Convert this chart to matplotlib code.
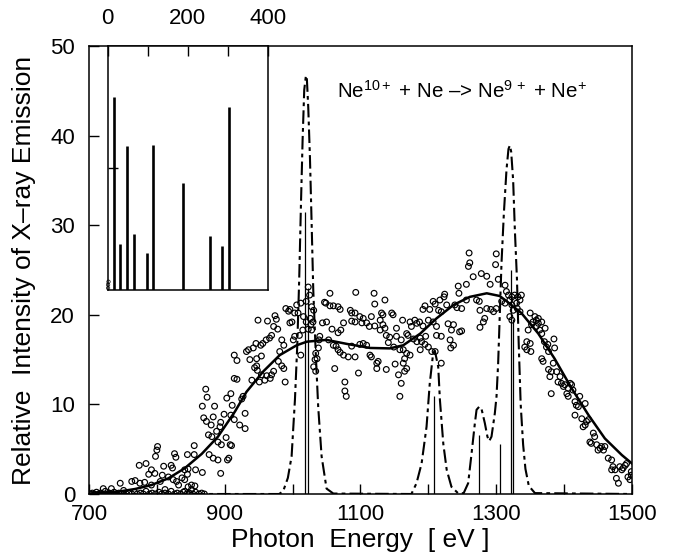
import numpy as np
import matplotlib
matplotlib.use("Agg")
import matplotlib.pyplot as plt

plt.rcParams['font.family'] = ['Liberation Sans', 'DejaVu Sans']
plt.rcParams['mathtext.fontset'] = 'custom'
plt.rcParams['mathtext.rm'] = 'Liberation Sans'
plt.rcParams['mathtext.it'] = 'Liberation Sans:italic'
plt.rcParams['mathtext.bf'] = 'Liberation Sans:bold'

# measured spectrum (open circles), eV / intensity
exp_energy = [
    702, 705, 708, 711, 714, 717, 720, 724, 727, 730, 733, 737, 740, 744, 748, 751, 755, 759,
    763, 767, 771, 776, 780, 784, 789, 793, 798, 803, 807, 812, 817, 821, 826, 830, 835, 839,
    844, 848, 853, 857, 862, 866, 870,
    721, 733, 746, 763, 768, 775, 782, 792, 805, 812, 817, 824, 829, 832, 837, 841, 841, 846,
    851, 851, 856, 774, 784, 788, 792, 797, 798, 800, 801, 808, 810, 821, 823, 826, 828, 841,
    845, 845, 846, 855, 855, 857, 867, 867, 869, 872, 873, 874, 876, 877, 880, 881, 883, 883,
    885, 888, 890, 890, 893, 894, 894, 895, 899, 902, 903, 904, 906, 908, 909, 909, 910, 911,
    914, 914, 914, 918, 918, 922, 925, 927, 930, 930, 932, 935, 937, 940, 942, 944, 946, 947,
    947, 948, 949, 951, 953, 954, 954, 956, 959, 961, 962, 963, 966, 967, 969, 969, 972, 972,
    974, 976, 978, 979, 981, 984, 984, 987, 987, 989, 990, 994, 996, 996, 999, 1001, 1003, 1003,
    1006, 1008, 1010, 1012, 1012, 1015, 1016, 1020, 1020, 1023, 1023, 1025, 1026, 1027, 1028, 1028,
    1030, 1031, 1031, 1033, 1034, 1034, 1036, 1038, 1039, 1040, 1044, 1047, 1049, 1050, 1053, 1055,
    1055, 1058, 1060, 1060, 1062, 1064, 1067, 1067, 1067, 1070, 1070, 1071, 1075, 1075, 1077, 1077,
    1079, 1082, 1085, 1087, 1087, 1087, 1092, 1092, 1092, 1093, 1097, 1099, 1099, 1102, 1104, 1104,
    1109, 1109, 1113, 1114, 1116, 1116, 1120, 1121, 1121, 1124, 1124, 1126, 1129, 1129, 1131, 1133,
    1133, 1136, 1136, 1138, 1138, 1141, 1143, 1146, 1148, 1149, 1151, 1153, 1153, 1156, 1158, 1158,
    1160, 1160, 1162, 1163, 1163, 1165, 1165, 1168, 1168, 1168, 1170, 1173, 1173, 1175, 1178, 1180,
    1183, 1183, 1187, 1188, 1188, 1190, 1192, 1192, 1195, 1195, 1196, 1200, 1200, 1202, 1205, 1207,
    1207, 1210, 1210, 1212, 1212, 1215, 1217, 1219, 1219, 1219, 1223, 1224, 1227, 1229, 1232, 1233,
    1234, 1237, 1237, 1239, 1242, 1244, 1245, 1246, 1249, 1249, 1256, 1256, 1259, 1260, 1261, 1266,
    1271, 1275, 1276, 1276, 1278, 1281, 1283, 1286, 1286, 1291, 1292, 1296, 1299, 1300, 1300, 1303,
    1308, 1313, 1313, 1315, 1318, 1320, 1320, 1323, 1323, 1323, 1325, 1327, 1330, 1331, 1332, 1335,
    1335, 1337, 1342, 1345, 1345, 1347, 1350, 1350, 1351, 1352, 1354, 1357, 1359, 1359, 1362, 1362,
    1364, 1367, 1367, 1367, 1369, 1371, 1372, 1374, 1376, 1377, 1377, 1379, 1381, 1381, 1384, 1385,
    1386, 1389, 1391, 1394, 1396, 1399, 1401, 1404, 1406, 1406, 1409, 1411, 1413, 1416, 1416, 1418,
    1421, 1423, 1426, 1428, 1431, 1431, 1433, 1436, 1438, 1440, 1443, 1445, 1448, 1450, 1453, 1455,
    1458, 1460, 1465, 1470, 1470, 1472, 1475, 1477, 1480, 1482, 1485, 1487, 1490, 1492, 1494, 1497,
    1499, 1499,
]
exp_intensity = [
    0.0, 0.1, 0.0, 0.2, 0.0, 0.1, 0.0, 0.3, 0.0, 0.1, 0.0, 0.2, 0.0, 0.1, 0.0, 0.4, 0.0, 0.1,
    0.0, 0.2, 0.0, 0.1, 0.0, 0.3, 0.0, 0.1, 0.0, 0.2, 0.0, 0.1, 0.0, 0.3, 0.0, 0.1, 0.0, 0.2,
    0.0, 0.1, 0.0, 0.2, 0.0, 0.1, 0.0,
    0.6, 0.6, 1.2, 1.4, 1.5, 1.2, 1.3, 1.0, 1.4, 0.5, 1.9, 1.6, 1.4, 1.0, 1.8, 1.6, 0.3, 0.8,
    1.0, 0.5, 0.9, 3.2, 3.4, 2.2, 2.7, 2.3, 4.2, 4.9, 5.3, 2.1, 3.1, 3.2, 2.9, 4.5, 4.1, 2.7,
    2.2, 4.4, 2.8, 5.4, 4.4, 2.7, 2.4, 9.8, 8.5, 11.7, 8.1, 10.8, 6.6, 4.4, 7.7, 6.4, 8.6, 4.0,
    9.8, 7.0, 5.8, 3.8, 7.5, 8.0, 2.3, 5.5, 8.9, 6.3, 10.7, 3.8, 4.0, 5.5, 11.2, 8.8, 5.4, 9.9,
    15.5, 12.9, 8.3, 14.9, 12.8, 7.7, 10.6, 10.9, 9.0, 7.3, 15.9, 16.1, 15.0, 12.7, 16.3, 14.1,
    16.8, 15.1, 14.3, 13.8, 19.4, 12.5, 16.6, 15.4, 13.3, 16.8, 12.7, 17.2, 13.2, 19.3, 17.4,
    12.9, 17.7, 13.3, 18.7, 13.7, 19.9, 19.5, 18.4, 14.8, 15.9, 17.2, 14.3, 16.6, 14.0, 12.5,
    20.7, 20.4, 20.6, 19.1, 19.2, 17.2, 20.2, 17.6, 21.1, 20.2, 17.7, 21.3, 15.5, 18.3, 19.8,
    21.5, 19.2, 18.4, 23.1, 22.2, 19.6, 18.9, 18.3, 20.9, 19.2, 20.5, 14.2, 15.0, 15.7, 13.7,
    15.1, 16.3, 17.2, 17.6, 19.1, 21.4, 21.3, 19.2, 17.2, 22.4, 21.0, 18.4, 16.6, 21.0, 14.0,
    16.5, 20.9, 18.0, 16.1, 20.6, 15.8, 18.3, 19.1, 15.5, 12.5, 11.5, 10.9, 15.3, 20.5, 20.2,
    19.3, 16.5, 20.2, 19.2, 15.3, 22.5, 13.5, 19.8, 16.7, 19.1, 19.6, 16.8, 19.1, 16.6, 18.7,
    15.5, 19.8, 15.3, 22.4, 21.2, 18.75, 14.6, 14.0, 14.8, 19.4, 18.3, 20.2, 18.9, 20.0, 21.65,
    18.5, 17.7, 13.9, 16.9, 17.5, 20.2, 20.0, 16.4, 14.5, 18.5, 17.6, 13.3, 16.1, 10.9, 17.2,
    12.35, 19.4, 16.1, 14.6, 15.1, 13.7, 17.9, 15.7, 14.0, 17.7, 15.5, 19.2, 18.7, 17.3, 19.4,
    19.05, 17.0, 19.2, 17.4, 16.1, 17.0, 20.6, 18.75, 21.0, 16.7, 17.6, 19.4, 16.4, 20.6, 15.9,
    21.5, 19.2, 21.2, 15.9, 18.7, 17.7, 20.5, 21.65, 20.35, 14.6, 17.6, 22.0, 22.3, 21.1, 19.0,
    17.2, 16.3, 18.3, 18.9, 16.6, 21.1, 20.8, 23.2, 22.4, 18.1, 20.7, 18.2, 23.4, 21.65, 25.4,
    26.9, 25.8, 24.25, 21.65, 21.5, 20.5, 18.6, 24.6, 19.2, 19.6, 24.3, 20.7, 23.4, 20.6, 20.35,
    25.6, 26.8, 20.7, 23.96, 21.5, 23.3, 21.3, 22.6, 22.2, 21.65, 19.8, 22.0, 21.1, 19.4, 20.5,
    22.2, 21.3, 20.7, 22.0, 21.65, 20.35, 22.2, 16.4, 17.0, 16.1, 18.3, 20.2, 16.8, 15.9, 18.9,
    19.2, 19.8, 19.4, 18.7, 19.6, 19.05, 18.3, 17.9, 19.2, 15.1, 14.8, 17.0, 18.5, 16.4, 16.7,
    15.9, 13.9, 13.1, 13.65, 11.2, 14.6, 17.3, 16.3, 13.65, 12.5, 13.1, 12.35, 12.0, 12.2,
    11.2, 11.8, 10.9, 12.35, 12.2, 11.6, 8.8, 10.3, 9.9, 9.75, 10.9, 8.4, 7.5, 7.7, 10.1, 8.1,
    8.3, 5.8, 5.65, 6.8, 6.4, 5.5, 4.9, 5.1, 5.3, 4.9, 5.3, 4.0, 3.8, 2.7, 3.05, 2.7, 1.75, 1.2,
    3.05, 2.7, 2.9, 3.2, 3.4, 1.9, 1.6, 2.1, 2.5,
]

# smooth fit (solid line)
fit_energy = [700, 720, 743, 768, 792, 817, 841, 866, 890, 915, 932, 957, 981, 1006, 1021,
              1050, 1080, 1114, 1143, 1163, 1188, 1212, 1237, 1261, 1286, 1305, 1313, 1337,
              1362, 1386, 1411, 1436, 1460, 1485, 1500]
fit_intensity = [0.05, 0.12, 0.26, 0.56, 1.0, 1.75, 2.87, 4.47, 6.4, 9.2, 11.4, 13.7, 15.5,
                 16.6, 17.0, 17.2, 16.75, 16.3, 16.25, 16.6, 17.9, 19.6, 21.1, 22.0, 22.4,
                 22.1, 21.65, 20.2, 17.9, 15.1, 11.8, 8.8, 6.2, 4.35, 3.4]

# convolved line spectrum (dash-dot line)
conv_energy = [700, 980, 986, 993, 998.5, 1003.4, 1006.8, 1009.7, 1012.2, 1014.7, 1017.1,
               1019.6, 1021, 1023, 1025.5, 1028, 1030.4, 1034.3, 1037.7, 1042.7, 1050, 1060,
               1175, 1182.5, 1190, 1197.3, 1202, 1207, 1209.5, 1214.5, 1217, 1222, 1227, 1234,
               1244, 1252, 1258.6, 1263.6, 1268.5, 1271, 1275, 1278.3, 1283.2, 1287, 1289.6,
               1293, 1297.9, 1300.4, 1302.8, 1305.3, 1307.7, 1311.2, 1315.1, 1318, 1320, 1322,
               1324.9, 1327.4, 1330.5, 1333, 1336, 1339.6, 1343, 1348, 1357, 1500]
conv_intensity = [0, 0, 0.3, 1.8, 4.2, 10.5, 16.5, 24.0, 32.1, 39.5, 45.1, 46.7, 46.3, 43.2,
                  37.6, 30.2, 22.8, 15.3, 9.7, 4.2, 0.6, 0.05, 0, 1.2, 3.4, 7.5, 12.3, 15.7,
                  16.0, 14.2, 10.5, 5.6, 2.7, 0.8, 0.07, 0.1, 1.2, 4.5, 7.9, 9.4, 9.75, 9.5,
                  7.9, 6.4, 5.9, 6.4, 9.0, 10.9, 14.6, 20.2, 25.7, 31.3, 36.2, 38.5, 38.9, 38.2,
                  35.0, 29.5, 24.0, 17.0, 10.0, 5.5, 2.8, 0.9, 0.1, 0]

# line positions (thin vertical sticks)
stick_energy = [1017.5, 1022.5, 1208.6, 1275, 1305, 1321.5, 1325]
stick_height = [31.5, 23.0, 10.9, 6.6, 5.6, 25.0, 19.5]

# inset lines
inset_pos = [16.6, 31.6, 47.4, 66.6, 97.4, 114, 189, 256, 286, 302]
inset_height = [79, 19, 59, 23, 15, 59.4, 44, 22, 18, 75]

fs = 16
fig = plt.figure(figsize=(6.73, 5.57), dpi=100)
ax = fig.add_axes([0.13224, 0.11311, 0.80684, 0.80431])

ax.scatter(exp_energy, exp_intensity, s=17, facecolors='none', edgecolors='black',
           linewidths=0.85, zorder=2)
ax.plot(fit_energy, fit_intensity, color='black', lw=1.8, zorder=3)
ax.plot(conv_energy, conv_intensity, color='black', lw=1.5,
        linestyle=(0, (6.5, 2.0, 1.8, 2.0)), zorder=3)
ax.vlines(stick_energy, 0, stick_height, color='black', lw=0.9, zorder=3)

ax.set_xlim(700, 1500)
ax.set_ylim(0, 50)
ax.set_xticks(np.arange(700, 1501, 100))
ax.set_xticklabels(['700', '', '900', '', '1100', '', '1300', '', '1500'])
ax.set_yticks(np.arange(0, 51, 10))
ax.tick_params(direction='in', length=7, width=1.0, labelsize=fs)
ax.tick_params(axis='x', pad=7)
ax.tick_params(axis='y', pad=10)
for sp in ax.spines.values():
    sp.set_linewidth(1.1)

ax.set_xlabel('Photon  Energy  [ eV ]', fontsize=19)
ax.set_ylabel('Relative  Intensity of X\u2013ray Emission', fontsize=19)
ax.xaxis.set_label_coords(0.5, -0.076)
ax.yaxis.set_label_coords(-0.097, 0.5)

ax.text(1066, 44.2, 'Ne$^{10+}$ + Ne \u2013> Ne$^{9\\,+}$ + Ne$^{+}$',
        fontsize=14.8, va='baseline', ha='left')

# inset
axi = fig.add_axes([0.16003, 0.47935, 0.23819, 0.43806])
axi.vlines(inset_pos, 0, inset_height, color='black', lw=1.9)
axi.scatter([1, 1, 2], [0.8, 2.2, 3.4], s=6, facecolors='none', edgecolors='black',
            linewidths=0.5, clip_on=False)
axi.set_xlim(0, 400)
axi.set_ylim(0, 100)
axi.xaxis.tick_top()
axi.set_xticks([0, 100, 200, 300, 400])
axi.set_xticklabels(['0', '', '200', '', '400'])
axi.set_yticks([50])
axi.set_yticklabels([])
axi.tick_params(direction='in', length=7, width=1.0, labelsize=fs)
axi.tick_params(axis='x', pad=12)
for sp in axi.spines.values():
    sp.set_linewidth(1.1)

fig.savefig('out.png', dpi=100)
